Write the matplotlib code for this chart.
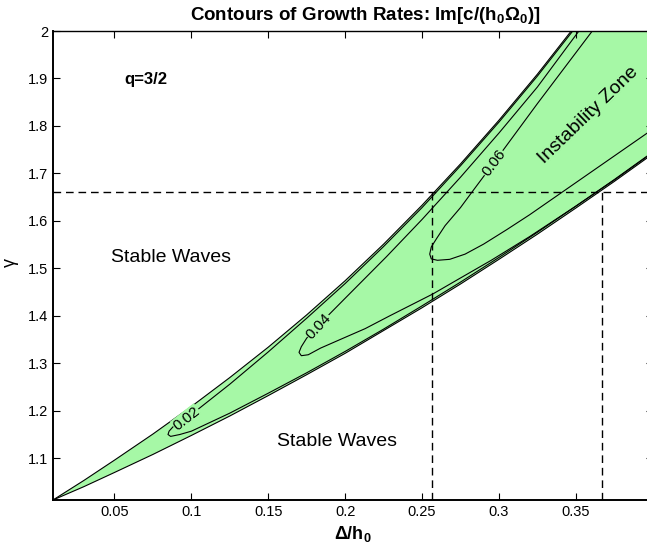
import numpy as np
import matplotlib
matplotlib.use("Agg")
import matplotlib.pyplot as plt

plt.rcParams["font.family"] = ["Liberation Sans", "DejaVu Sans"]
plt.rcParams["mathtext.fontset"] = "custom"
plt.rcParams["mathtext.rm"] = "Liberation Sans:bold"
plt.rcParams["mathtext.it"] = "Liberation Sans:bold"
plt.rcParams["mathtext.bf"] = "Liberation Sans:bold"

GREEN = "#a6f8a6"

XLIM = (0.01, 0.40)
YLIM = (1.012, 2.0)

# outer edge of the instability zone (zero growth contour)
UPPER_X = [0.010, 0.030, 0.050, 0.075, 0.100, 0.125, 0.150, 0.175, 0.200, 0.225, 0.250, 0.275, 0.300, 0.325, 0.347]
UPPER_Y = [1.012, 1.053, 1.096, 1.151, 1.209, 1.270, 1.334, 1.402, 1.474, 1.551, 1.633, 1.720, 1.812, 1.909, 2.000]
LOWER_X = [0.010, 0.030, 0.050, 0.075, 0.100, 0.125, 0.150, 0.175, 0.200, 0.225, 0.250, 0.275, 0.300, 0.325, 0.350, 0.375, 0.400]
LOWER_Y = [1.012, 1.040, 1.070, 1.108, 1.148, 1.189, 1.232, 1.276, 1.321, 1.369, 1.417, 1.467, 1.519, 1.572, 1.627, 1.683, 1.741]

# growth-rate contours (upper branch from the top, round the tip, lower branch to the right)
C02_X = [0.348, 0.325, 0.300, 0.275, 0.250, 0.225, 0.200, 0.175, 0.150, 0.125, 0.100, 0.092, 0.088, 0.0855, 0.0848,
         0.0865, 0.0925, 0.100, 0.125, 0.150, 0.175, 0.200, 0.225, 0.250, 0.275, 0.300, 0.325, 0.350, 0.375, 0.400]
C02_Y = [2.000, 1.905, 1.808, 1.716, 1.628, 1.546, 1.468, 1.395, 1.324, 1.256, 1.192, 1.175, 1.166, 1.157, 1.150,
         1.146, 1.150, 1.157, 1.195, 1.237, 1.280, 1.325, 1.372, 1.421, 1.471, 1.523, 1.576, 1.631, 1.687, 1.745]

C04_X = [0.352, 0.325, 0.300, 0.275, 0.250, 0.227, 0.200, 0.189, 0.180, 0.175, 0.1715, 0.1700,
         0.1715, 0.1760, 0.1840, 0.1967, 0.213, 0.229, 0.257, 0.273, 0.295, 0.320, 0.350, 0.375, 0.400]
C04_Y = [2.000, 1.882, 1.785, 1.692, 1.603, 1.525, 1.437, 1.401, 1.370, 1.353, 1.335, 1.323,
         1.316, 1.318, 1.332, 1.350, 1.373, 1.400, 1.446, 1.476, 1.517, 1.567, 1.631, 1.686, 1.744]

C06_X = [0.3607, 0.325, 0.2966, 0.2830, 0.2750, 0.2650, 0.2595, 0.2560, 0.2550, 0.2560, 0.2600,
         0.2680, 0.2780, 0.2900, 0.3053, 0.3200, 0.3400, 0.3600, 0.3800, 0.4000]
C06_Y = [2.000, 1.847, 1.722, 1.663, 1.628, 1.590, 1.563, 1.545, 1.530, 1.520, 1.517,
         1.519, 1.530, 1.551, 1.582, 1.613, 1.658, 1.703, 1.748, 1.793]

LABELS = ["0.02", "0.04", "0.06"]
LABEL_X = [0.0967, 0.1826, 0.2966]
LABEL_Y = [1.184, 1.378, 1.722]
LABEL_ROT = [38, 47, 53]

GAMMA_LINE = 1.661
DELTA_LINES = [0.2565, 0.367]

XTICKS = [0.05, 0.1, 0.15, 0.2, 0.25, 0.3, 0.35]
XTICKLABELS = ["0.05", "0.1", "0.15", "0.2", "0.25", "0.3", "0.35"]
YTICKS = [1.1, 1.2, 1.3, 1.4, 1.5, 1.6, 1.7, 1.8, 1.9, 2.0]
YTICKLABELS = ["1.1", "1.2", "1.3", "1.4", "1.5", "1.6", "1.7", "1.8", "1.9", "2"]


fig = plt.figure(figsize=(6.47, 5.55), dpi=100)
ax = fig.add_axes([0.0819, 0.0991, 0.9269, 0.845])

# shaded zone: up the upper edge, along the top, back down the lower edge
fill_x = np.concatenate([UPPER_X, [XLIM[1]], LOWER_X[::-1]])
fill_y = np.concatenate([UPPER_Y, [YLIM[1]], LOWER_Y[::-1]])
ax.fill(fill_x, fill_y, color=GREEN, lw=0, zorder=1)

ax.plot(UPPER_X, UPPER_Y, color="black", lw=0.8, zorder=2)
ax.plot(LOWER_X, LOWER_Y, color="black", lw=0.8, zorder=2)
for cx, cy in [(C02_X, C02_Y), (C04_X, C04_Y), (C06_X, C06_Y)]:
    ax.plot(cx, cy, color="black", lw=0.8, zorder=2)

for lab, lx, ly, rot in zip(LABELS, LABEL_X, LABEL_Y, LABEL_ROT):
    ax.text(lx, ly, lab, rotation=rot, ha="center", va="center", fontsize=11, zorder=3,
            bbox=dict(facecolor=GREEN, edgecolor="none", pad=0.3))

# reference lines
dash = (0, (5.5, 3.5))
ax.axhline(GAMMA_LINE, color="black", lw=1.0, ls=dash, zorder=4)
for dx in DELTA_LINES:
    ax.plot([dx, dx], [YLIM[0], GAMMA_LINE], color="black", lw=1.0, ls=dash, zorder=4)

ax.text(0.0565, 1.898, "q=3/2", fontsize=12, fontweight="bold", ha="left", va="center")
ax.text(0.0478, 1.522, "Stable Waves", fontsize=14, ha="left", va="center")
ax.text(0.1554, 1.135, "Stable Waves", fontsize=14, ha="left", va="center")
ax.text(0.358, 1.8226, "Instability Zone", fontsize=14, rotation=44, ha="center", va="center")

ax.set_xlim(*XLIM)
ax.set_ylim(*YLIM)
ax.set_xticks(XTICKS)
ax.set_xticklabels(XTICKLABELS)
ax.set_yticks(YTICKS)
ax.set_yticklabels(YTICKLABELS)
ax.tick_params(direction="in", length=5, width=0.8, labelsize=10.5, top=True, right=True)
for side in ["left", "bottom"]:
    ax.spines[side].set_linewidth(1.4)
ax.spines["top"].set_linewidth(1.0)

ax.set_xlabel(r"$\Delta$/h$_0$", fontsize=13, fontweight="bold", labelpad=4)
fig.text(10 / 647, 1 - 262 / 555, "γ", rotation=90, fontsize=13, ha="center", va="center")
fig.text(365 / 647, 1 - 20 / 555, "Contours of Growth Rates: Im[c/(h$_0$Ω$_0$)]",
         fontsize=13.5, fontweight="bold", ha="center", va="baseline")

fig.savefig("out.png", dpi=100)
